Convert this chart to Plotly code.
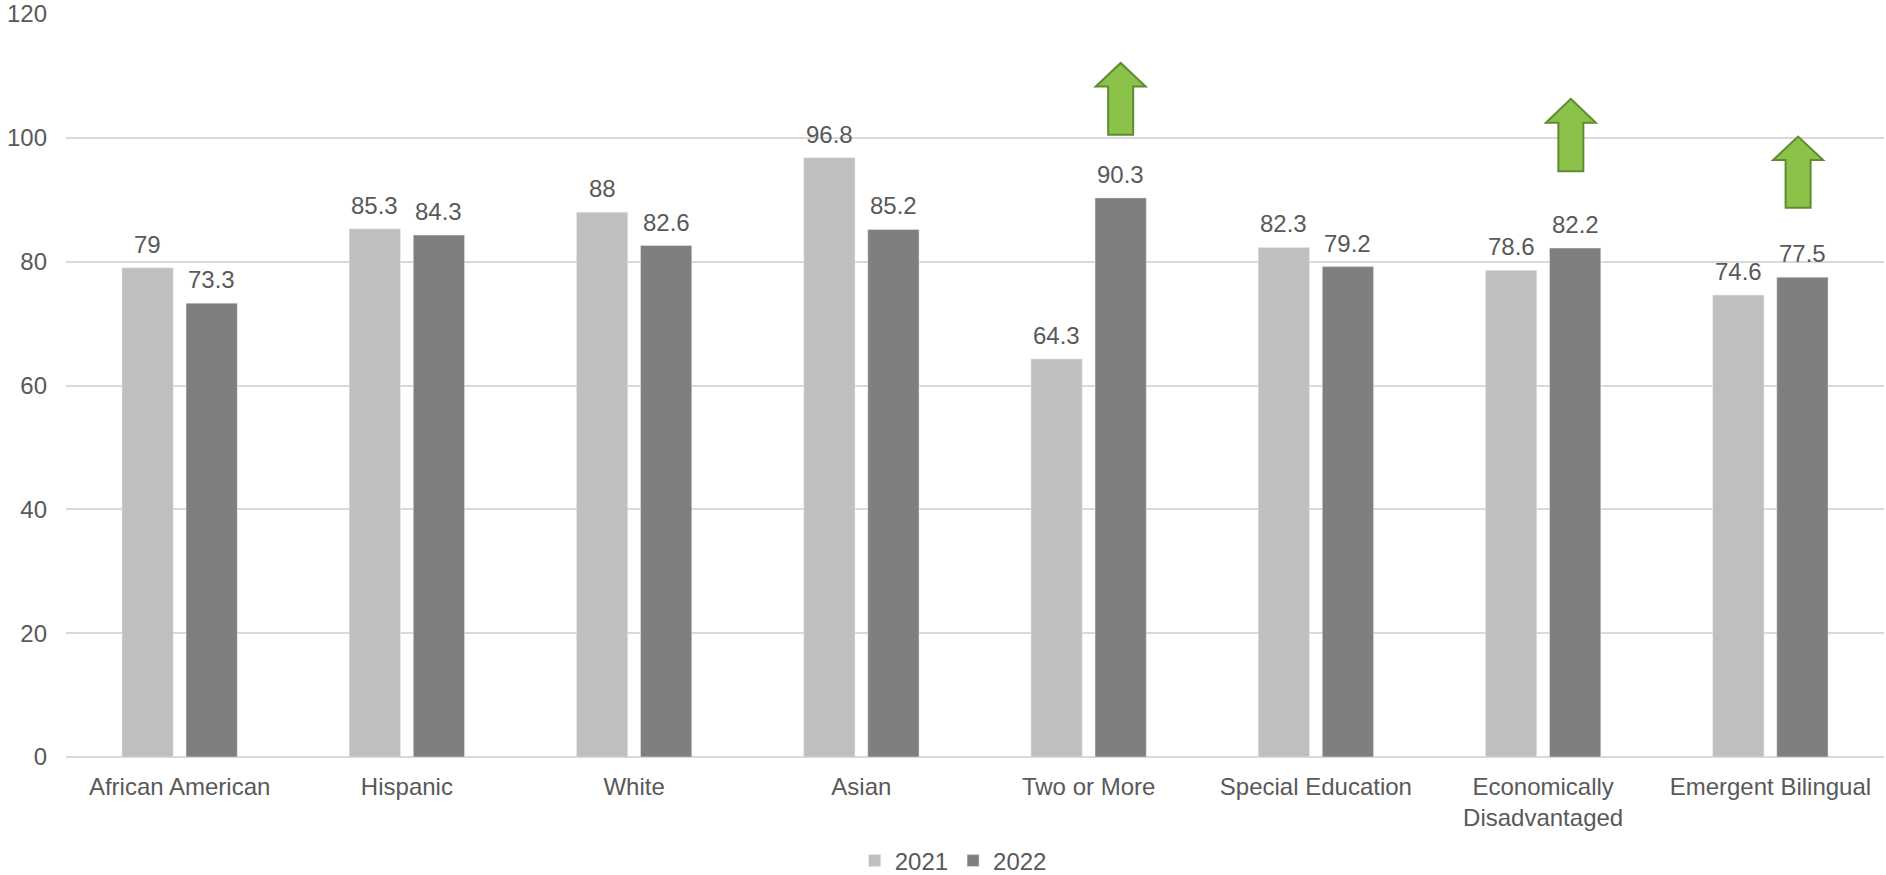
import plotly.graph_objects as go

categories = ["African American", "Hispanic", "White", "Asian", "Two or More",
              "Special Education", "Economically<br>Disadvantaged", "Emergent Bilingual"]
values_2021 = [79, 85.3, 88, 96.8, 64.3, 82.3, 78.6, 74.6]
values_2022 = [73.3, 84.3, 82.6, 85.2, 90.3, 79.2, 82.2, 77.5]
y_ticks = [0, 20, 40, 60, 80, 100, 120]

# improvement arrows: (category index, bottom value, tip value)
arrow_cats = [4, 6, 7]
arrow_bottoms = [100.5, 94.6, 88.7]
arrow_tips = [112.1, 106.3, 100.2]

FONT = "Arial, Liberation Sans, sans-serif"
TXT = "#595959"
C21 = "#BFBFBF"
C22 = "#7F7F7F"
FS = 24

xs = list(range(len(categories)))
OFF = 0.141

fig = go.Figure()
fig.add_trace(go.Bar(x=xs, y=values_2021, name="2021", marker_color=C21, offsetgroup="a"))
fig.add_trace(go.Bar(x=xs, y=values_2022, name="2022", marker_color=C22, offsetgroup="b"))

for i in xs:
    for v, d in ((values_2021[i], -OFF), (values_2022[i], OFF)):
        fig.add_annotation(x=i + d, y=v, text=f"{v:g}", showarrow=False,
                           yanchor="bottom", yshift=8,
                           font=dict(family=FONT, size=FS, color=TXT))

HW = 0.11   # head half width (x units)
SW = 0.055  # shaft half width
for c, b, t in zip(arrow_cats, arrow_bottoms, arrow_tips):
    cx = c + (OFF if c == 4 else 0.122)
    hb = t - (t - b) * 0.33
    path = (f"M {cx - SW} {b} L {cx - SW} {hb} L {cx - HW} {hb} L {cx} {t} "
            f"L {cx + HW} {hb} L {cx + SW} {hb} L {cx + SW} {b} Z")
    fig.add_shape(type="path", path=path, xref="x", yref="y",
                  fillcolor="#8BC34A", line=dict(color="#5E8C31", width=2))

fig.update_layout(
    width=1886, height=875,
    margin=dict(l=66, r=2, t=14, b=118),
    plot_bgcolor="white", paper_bgcolor="white",
    barmode="group", bargap=0.436, bargroupgap=0.2,
    font=dict(family=FONT, size=FS, color=TXT),
    legend=dict(orientation="h", x=0.488, xanchor="center",
                yref="container", y=0.016, yanchor="middle",
                font=dict(family=FONT, size=FS, color=TXT), traceorder="normal"),
    xaxis=dict(range=[-0.5, len(categories) - 0.5], tickvals=xs, ticktext=categories,
               showgrid=False, zeroline=False, showline=False, ticks="",
               automargin=False, ticklabelstandoff=13,
               tickfont=dict(family=FONT, size=FS, color=TXT)),
    yaxis=dict(range=[0, 120], tickvals=y_ticks, showgrid=True, gridcolor="#D9D9D9",
               gridwidth=1.5, zeroline=True, zerolinecolor="#D9D9D9", zerolinewidth=2,
               showline=False, ticks="", ticklabelstandoff=18, automargin=False,
               tickfont=dict(family=FONT, size=FS, color=TXT)),
)

fig.write_html("out.html", config={"displayModeBar": False},
               post_script="document.body.style.margin='0';document.body.style.overflow='hidden';")
